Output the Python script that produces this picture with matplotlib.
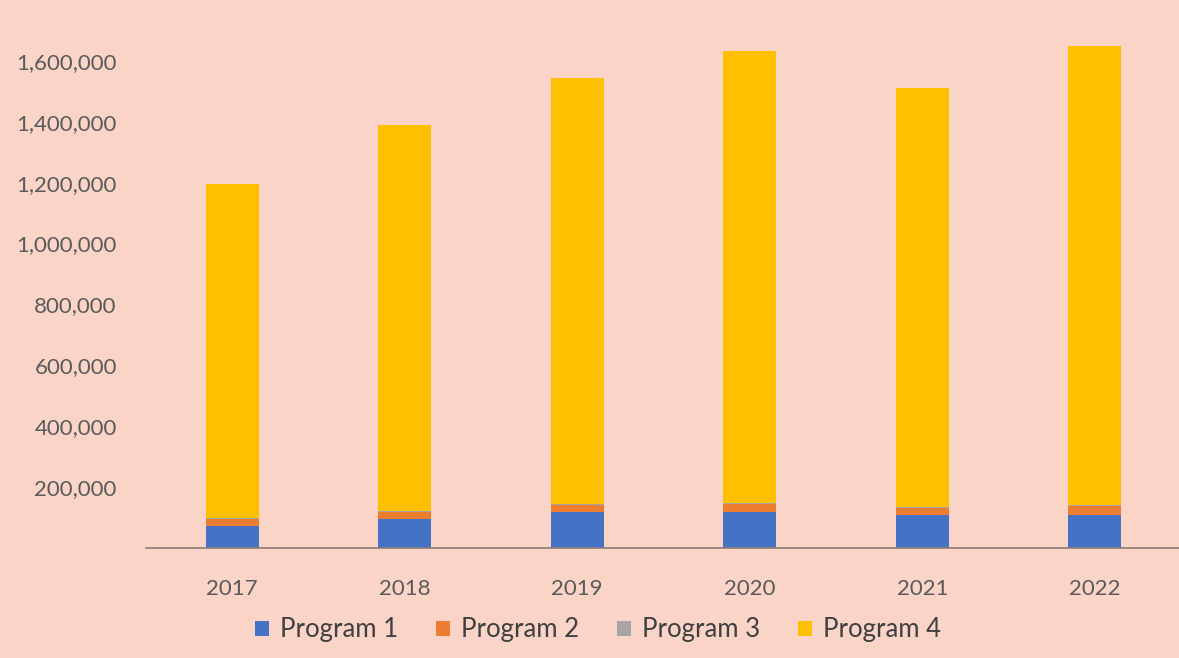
import numpy as np
import matplotlib.pyplot as plt
from matplotlib.ticker import FuncFormatter

years = ["2017", "2018", "2019", "2020", "2021", "2022"]
program1 = [72000, 95000, 117000, 117000, 108000, 109000]
program2 = [22000, 22000, 23000, 28000, 24000, 29000]
program3 = [3000, 3000, 3000, 3000, 3000, 3000]
totals = [1195000, 1390000, 1545000, 1633000, 1512000, 1650000]
program4 = [t - a - b - c for t, a, b, c in zip(totals, program1, program2, program3)]

bg = "#F9D4C7"
colors = ["#4472C4", "#ED7D31", "#A5A5A5", "#FFC000"]
labels = ["Program 1", "Program 2", "Program 3", "Program 4"]

plt.rcParams['font.family'] = ['Lato', 'DejaVu Sans']

fig = plt.figure(figsize=(11.79, 6.58), dpi=100, facecolor=bg)
ax = fig.add_axes([146 / 1179, 110 / 658, 1035 / 1179, 548 / 658])
ax.set_facecolor(bg)

x = np.arange(len(years))
w = 0.31
bottom = np.zeros(len(years))
for vals, c, lab in zip([program1, program2, program3, program4], colors, labels):
    ax.bar(x, vals, w, bottom=bottom, color=c, label=lab)
    bottom += np.array(vals)

ax.set_xlim(-0.5, 5.5)
ax.set_ylim(0, 1800000)
ax.set_yticks(np.arange(200000, 1600001, 200000))
ax.yaxis.set_major_formatter(FuncFormatter(lambda v, p: f"{int(v):,}"))
ax.set_xticks(x)
ax.set_xticklabels(years)

for s in ["top", "right", "left"]:
    ax.spines[s].set_visible(False)
ax.spines["bottom"].set_color("#8C7B76")
ax.spines["bottom"].set_linewidth(1.2)
ax.tick_params(axis="both", length=0, labelsize=16, colors="#5A5A5A")
ax.tick_params(axis="y", pad=21)
ax.tick_params(axis="x", pad=22)

fig.legend(*ax.get_legend_handles_labels(), loc="center", bbox_to_anchor=(598 / 1179, 1 - 630 / 658),
           ncol=4, frameon=False, fontsize=18.5, handlelength=0.55, handleheight=0.55,
           handletextpad=0.4, columnspacing=1.5, labelcolor="#404040")

fig.savefig("out.png", dpi=100, facecolor=bg)
